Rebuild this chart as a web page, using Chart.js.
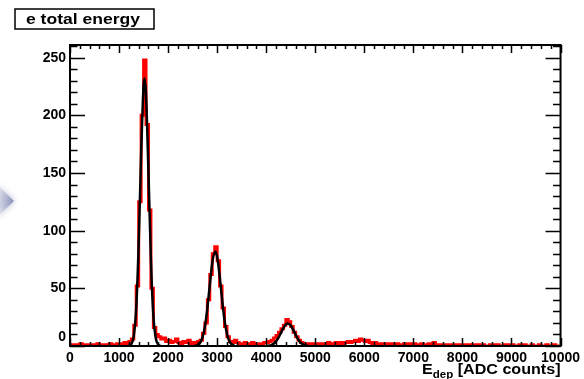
<!DOCTYPE html>
<html>
<head>
<meta charset="utf-8">
<title>e total energy</title>
<script src="https://cdn.jsdelivr.net/npm/chart.js@4.4.1/dist/chart.umd.min.js"></script>
<style>
  html, body { margin: 0; padding: 0; background: #fff; }
  #wrap { width: 584px; height: 379px; }
</style>
</head>
<body>
<div id="wrap"><canvas id="energyChart" width="584" height="379"></canvas></div>
<script>
// histogram: entries per 50 ADC-count bin, 0 .. 10000
const binWidth = 50;
const counts = [
  1, 1, 0, 1, 2, 1, 1, 0, 1, 1,        // 0 - 500
  1, 2, 1, 1, 0, 1, 2, 1, 1, 2,        // 500 - 1000
  2, 1, 3, 2, 4, 6, 18, 52, 125, 200,  // 1000 - 1500
  248, 192, 118, 50, 16, 10, 8, 6, 7, 4, // 1500 - 2000
  5, 3, 4, 6, 3, 2, 4, 3, 5, 2,        // 2000 - 2500
  3, 2, 4, 5, 11, 20, 40, 62, 80, 86,  // 2500 - 3000
  74, 52, 33, 17, 8, 4, 3, 5, 3, 2,    // 3000 - 3500
  2, 3, 1, 2, 3, 2, 1, 2, 2, 3,        // 3500 - 4000
  3, 4, 5, 7, 9, 12, 15, 18, 23, 21,   // 4000 - 4500
  17, 12, 8, 5, 3, 2, 2, 1, 2, 1,      // 4500 - 5000
  2, 1, 2, 1, 2, 3, 2, 2, 3, 2,        // 5000 - 5500
  3, 2, 3, 4, 3, 4, 5, 4, 6, 5,        // 5500 - 6000
  4, 5, 3, 2, 3, 2, 2, 1, 2, 2,        // 6000 - 6500
  1, 2, 1, 2, 1, 1, 2, 1, 2, 1,        // 6500 - 7000
  2, 1, 1, 2, 1, 1, 2, 1, 3, 1,        // 7000 - 7500
  1, 1, 0, 1, 1, 0, 1, 1, 0, 1,        // 7500 - 8000
  1, 0, 1, 1, 0, 1, 0, 1, 1, 0,        // 8000 - 8500
  0, 1, 0, 1, 1, 0, 0, 1, 0, 1,        // 8500 - 9000
  1, 0, 0, 1, 0, 1, 0, 0, 1, 0,        // 9000 - 9500
  0, 1, 0, 0, 1, 0, 0, 1, 0, 0         // 9500 - 10000
];

// fitted curve, null breaks the line between the peaks
const fitX = [
  1200, 1250, 1300, 1350, 1400, 1450, 1500, 1520, 1550, 1600, 1650, 1700, 1750, 1800, 1850,
  2000,
  2550, 2600, 2650, 2700, 2750, 2800, 2850, 2900, 2960, 3000, 3050, 3100, 3150, 3200, 3250, 3300, 3350,
  3700,
  4000, 4050, 4100, 4150, 4200, 4250, 4300, 4350, 4400, 4440, 4500, 4550, 4600, 4650, 4700, 4750, 4800, 4850
];
const fitY = [
  0.2, 1.7, 8.8, 33, 88, 167, 226, 232, 218, 150, 74, 26, 6.5, 1.2, 0.1,
  null,
  0.2, 0.8, 2.6, 7.2, 16.8, 32.7, 53, 72, 82, 77.4, 61, 40.6, 22.4, 10.4, 4, 1.3, 0.4,
  null,
  0.1, 0.3, 0.8, 1.9, 4.0, 7.2, 11.4, 15.6, 18.7, 19.5, 17.7, 14, 9.7, 5.8, 3.0, 1.4, 0.6, 0.2
];

const xTickValues = [0, 1000, 2000, 3000, 4000, 5000, 6000, 7000, 8000, 9000, 10000];
const yTickValues = [0, 50, 100, 150, 200, 250];
const titleText = "e total energy";

const labelFont = { family: "'Liberation Sans', Arial, sans-serif", size: 14, weight: "bold" };

// histogram outline as left bin edges plus closing point
const histPoints = counts.map((c, i) => ({ x: i * binWidth, y: c }));
histPoints.push({ x: counts.length * binWidth, y: counts[counts.length - 1] });
const fitPoints = fitX.map((x, i) => ({ x: x, y: fitY[i] }));

// ROOT style frame, inner ticks, title box and axis title
const rootDecor = {
  id: "rootDecor",
  beforeDraw(chart) {
    const ctx = chart.ctx;
    // blurred blue arrow on the left edge
    ctx.save();
    const g = ctx.createLinearGradient(0, 0, 16, 0);
    g.addColorStop(0, "rgba(205,208,226,0.5)");
    g.addColorStop(1, "rgba(100,110,165,0.9)");
    ctx.fillStyle = g;
    ctx.shadowColor = "rgba(120,125,170,0.7)";
    ctx.shadowBlur = 6;
    ctx.beginPath();
    ctx.moveTo(-4, 184);
    ctx.lineTo(14, 201);
    ctx.lineTo(-4, 218);
    ctx.closePath();
    ctx.fill();
    ctx.restore();
  },
  afterDraw(chart) {
    const ctx = chart.ctx;
    const a = chart.chartArea;
    const xs = chart.scales.x;
    const ys = chart.scales.y;
    ctx.save();
    ctx.strokeStyle = "#000";
    ctx.lineWidth = 2;
    ctx.strokeRect(a.left, a.top, a.right - a.left, a.bottom - a.top);

    ctx.lineWidth = 1.5;
    ctx.beginPath();
    for (let v = 0; v <= xs.max; v += 200) {
      const px = Math.round(xs.getPixelForValue(v)) + 0.5;
      const len = v % 1000 === 0 ? 8 : 4;
      ctx.moveTo(px, a.bottom); ctx.lineTo(px, a.bottom - len);
      ctx.moveTo(px, a.top); ctx.lineTo(px, a.top + len);
    }
    for (let v = 0; v <= ys.max; v += 10) {
      const py = Math.round(ys.getPixelForValue(v)) + 0.5;
      const len = v % 50 === 0 ? 15 : 7.5;
      ctx.moveTo(a.left, py); ctx.lineTo(a.left + len, py);
      ctx.moveTo(a.right, py); ctx.lineTo(a.right - len, py);
    }
    ctx.stroke();

    // title box
    ctx.fillStyle = "#fff";
    ctx.fillRect(15, 9, 139, 20);
    ctx.lineWidth = 1.5;
    ctx.strokeRect(15, 9, 139, 20);
    ctx.fillStyle = "#000";
    ctx.font = "bold 14px 'Liberation Sans', Arial, sans-serif";
    ctx.textBaseline = "alphabetic";
    const tw = ctx.measureText(titleText).width;
    ctx.save();
    ctx.translate(26, 23.5);
    ctx.scale(114 / tw, 1);
    ctx.fillText(titleText, 0, 0);
    ctx.restore();

    // x axis title, right aligned to the frame
    const stretch = 1.15;
    const mainFont = "bold 14px 'Liberation Sans', Arial, sans-serif";
    const subFont = "bold 10px 'Liberation Sans', Arial, sans-serif";
    ctx.font = mainFont;
    const wE = ctx.measureText("E").width;
    const wRest = ctx.measureText(" [ADC counts]").width;
    ctx.font = subFont;
    const wSub = ctx.measureText("dep").width;
    const total = (wE + wSub + wRest) * stretch;
    ctx.save();
    ctx.translate(a.right - total, 374);
    ctx.scale(stretch, 1);
    ctx.font = mainFont;
    ctx.fillText("E", 0, 0);
    ctx.font = subFont;
    ctx.fillText("dep", wE, 4);
    ctx.font = mainFont;
    ctx.fillText(" [ADC counts]", wE + wSub, 0);
    ctx.restore();
    ctx.restore();
  }
};

const ctxE = document.getElementById("energyChart").getContext("2d");
const energyChart = new Chart(ctxE, {
  type: "line",
  data: {
    datasets: [
      {
        label: "fit",
        data: fitPoints,
        borderColor: "#000000",
        borderWidth: 2.5,
        pointRadius: 0,
        cubicInterpolationMode: "monotone",
        spanGaps: false,
        fill: false,
        order: 0
      },
      {
        label: "e total energy",
        data: histPoints,
        borderColor: "#ff0000",
        borderWidth: 3,
        pointRadius: 0,
        stepped: "before",
        fill: false,
        order: 1
      }
    ]
  },
  options: {
    responsive: false,
    animation: false,
    events: [],
    layout: { padding: { left: 0, right: 22, top: 45, bottom: 0 } },
    plugins: {
      legend: { display: false },
      tooltip: { enabled: false },
      title: { display: false }
    },
    scales: {
      x: {
        type: "linear",
        min: 0,
        max: 10000,
        afterBuildTicks: (s) => { s.ticks = xTickValues.map(v => ({ value: v })); },
        afterFit: (s) => { s.height = 33; },
        grid: { display: false, drawTicks: false },
        border: { display: false },
        ticks: {
          font: labelFont,
          color: "#000",
          padding: 4,
          maxRotation: 0,
          autoSkip: false,
          callback: (v) => String(v)
        }
      },
      y: {
        type: "linear",
        min: 0,
        max: 261,
        afterBuildTicks: (s) => { s.ticks = yTickValues.map(v => ({ value: v })); },
        afterFit: (s) => { s.width = 70; },
        grid: { display: false, drawTicks: false },
        border: { display: false },
        ticks: {
          font: labelFont,
          color: "#000",
          padding: 4,
          // ROOT lifts the "0" label off the corner
          callback: (v) => (v === 0 ? ["0", ""] : String(v))
        }
      }
    }
  },
  plugins: [rootDecor]
});
</script>
</body>
</html>
